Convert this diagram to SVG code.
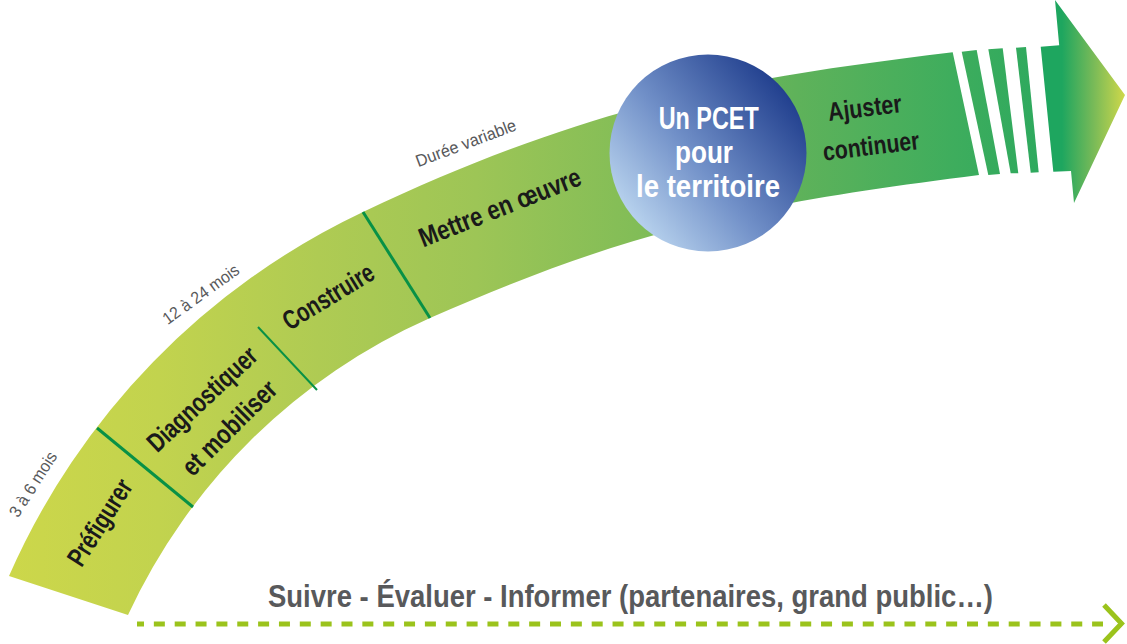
<svg xmlns="http://www.w3.org/2000/svg" width="1127" height="644" viewBox="0 0 1127 644">
<defs>
<linearGradient id="gBand" gradientUnits="userSpaceOnUse" x1="0" y1="0" x2="1060" y2="0">
<stop offset="0" stop-color="#cdd74a"/>
<stop offset="0.15" stop-color="#c2d34e"/>
<stop offset="0.3" stop-color="#afcb53"/>
<stop offset="0.45" stop-color="#9dc556"/>
<stop offset="0.6" stop-color="#82bd57"/>
<stop offset="0.75" stop-color="#5fb25a"/>
<stop offset="0.9" stop-color="#3ead5d"/>
<stop offset="1" stop-color="#2aa85e"/>
</linearGradient>
<linearGradient id="gHead" gradientUnits="userSpaceOnUse" x1="1062" y1="0" x2="1125" y2="0">
<stop offset="0" stop-color="#1ea65f"/>
<stop offset="0.5" stop-color="#78ba58"/>
<stop offset="1" stop-color="#cfd84a"/>
</linearGradient>
<linearGradient id="gCircle" x1="0.1" y1="0.9" x2="0.95" y2="0.2">
<stop offset="0" stop-color="#c0daf2"/>
<stop offset="0.45" stop-color="#7190c8"/>
<stop offset="1" stop-color="#1d3b8b"/>
</linearGradient>
</defs>
<style>
.lbl{font-family:"Liberation Sans",Arial,sans-serif;font-weight:bold;font-size:27px;fill:#1a1a1a;text-anchor:middle}
.lbs{font-family:"Liberation Sans",Arial,sans-serif;font-weight:bold;font-size:26px;fill:#1a1a1a}
.dur{font-family:"Liberation Sans",Arial,sans-serif;font-size:17px;fill:#58595b;text-anchor:middle}
.pc{font-family:"Liberation Sans",Arial,sans-serif;font-weight:bold;font-size:32px;fill:#ffffff;text-anchor:middle}
.sep{stroke:#089146;fill:none}
.dash{stroke:#9bc31c;fill:none;stroke-width:5}
</style>

<g id="band">
<path d="M9,576 A725,725 0 0 1 363,212 C603,98.6 752,77 952.7,52.3 L979,175 C779,200.8 650,220.8 430,318 A601,601 0 0 0 128,615 Z" fill="url(#gBand)"/>
<polygon points="961.7,51.7 976.7,50 1000,174 988.3,175" fill="url(#gBand)"/>
<polygon points="988.3,49.3 1002.7,48.3 1018.3,173.3 1010.7,173.3" fill="url(#gBand)"/>
<polygon points="1016,47.7 1026,47 1038.7,172.3 1030.7,172.7" fill="url(#gBand)"/>
<polygon points="1040.7,46.7 1059.2,45.3 1055,0 1125,95 1074,203 1071,171 1053.3,171.7" fill="url(#gHead)"/>
<line class="sep" x1="97" y1="428" x2="193" y2="507" stroke-width="3"/>
<line class="sep" x1="258" y1="327" x2="317" y2="390" stroke-width="2"/>
<line class="sep" x1="363" y1="212" x2="430" y2="318" stroke-width="3"/>
</g>

<g id="phase-prefigurer">
<text class="lbl" transform="translate(100,522.5) rotate(-57.5)" x="0" y="9" textLength="97" lengthAdjust="spacingAndGlyphs">Préfigurer</text>
<text class="dur" transform="translate(33.3,484.4) rotate(-57.3)" x="0" y="5.5" textLength="74" lengthAdjust="spacingAndGlyphs">3 à 6 mois</text>
</g>

<g id="phase-diagnostiquer">
<text class="lbl" transform="translate(202.2,399.2) rotate(-43)" x="0" y="9" textLength="140" lengthAdjust="spacingAndGlyphs">Diagnostiquer</text>
<text class="lbl" transform="translate(229.5,428) rotate(-45)" x="0" y="9" textLength="122" lengthAdjust="spacingAndGlyphs">et mobiliser</text>
<text class="dur" transform="translate(201,294.5) rotate(-35.7)" x="0" y="5.5" textLength="90" lengthAdjust="spacingAndGlyphs">12 à 24 mois</text>
</g>

<g id="phase-construire">
<text class="lbl" transform="translate(328.3,296.7) rotate(-31.3)" x="0" y="9" textLength="102" lengthAdjust="spacingAndGlyphs">Construire</text>
</g>

<g id="phase-mettre">
<text class="lbl" transform="translate(500,207.5) rotate(-21.6)" x="0" y="9" textLength="172" lengthAdjust="spacingAndGlyphs">Mettre en œuvre</text>
<text class="dur" transform="translate(466,143.4) rotate(-20.6)" x="0" y="5.5" textLength="106" lengthAdjust="spacingAndGlyphs">Durée variable</text>
</g>

<g id="pcet">
<circle cx="708" cy="153" r="98.5" fill="url(#gCircle)"/>
<text class="pc" x="708.7" y="129" textLength="100" lengthAdjust="spacingAndGlyphs">Un PCET</text>
<text class="pc" x="704" y="162.5" textLength="58" lengthAdjust="spacingAndGlyphs">pour</text>
<text class="pc" x="708" y="197" textLength="144" lengthAdjust="spacingAndGlyphs">le territoire</text>
</g>

<g id="phase-ajuster">
<text class="lbs" transform="translate(829,121) rotate(-7)" x="0" y="0" textLength="74" lengthAdjust="spacingAndGlyphs">Ajuster</text>
<text class="lbs" transform="translate(824,160.7) rotate(-7)" x="0" y="0" textLength="97" lengthAdjust="spacingAndGlyphs">continuer</text>
</g>

<g id="suivi">
<text x="268" y="607" font-family="'Liberation Sans',Arial,sans-serif" font-weight="bold" font-size="32" fill="#58595b" textLength="725" lengthAdjust="spacingAndGlyphs">Suivre - Évaluer - Informer (partenaires, grand public…)</text>
</g>

<g id="connectors">
<line class="dash" x1="137" y1="624" x2="1103" y2="624" stroke-dasharray="11 9.85" stroke-dashoffset="4"/>
<polyline class="dash" points="1104,605 1121.5,623.5 1104,642"/>
</g>
</svg>
